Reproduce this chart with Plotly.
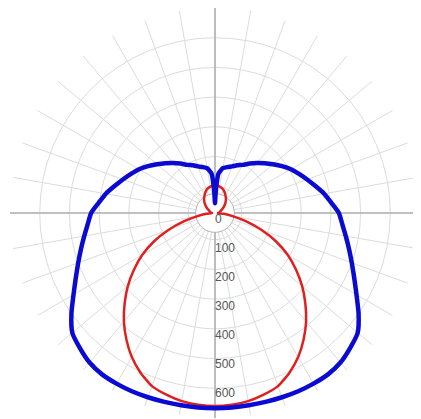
import plotly.graph_objects as go

# Angles measured from nadir (0 = straight down), one half of a symmetric curve
angles = [0, 5, 10, 15, 20, 25, 30, 35, 40, 45, 50, 55, 60, 65, 70, 75, 80, 85, 90,
          95, 100, 105, 110, 115, 120, 125, 130, 135, 140, 145, 150, 155, 160, 165, 170, 175, 178, 180]
blue_cd = [657, 657, 657, 658, 660, 662, 663, 663, 657, 643, 627, 590, 550, 517, 490, 467, 447, 430, 417,
           393, 373, 350, 330, 312, 295, 275, 255, 237, 220, 203, 187, 177, 167, 160, 153, 133, 73, 33]

red_angles = [0, 5, 10, 15, 20, 25, 30, 35, 40, 45, 50, 55, 60, 65, 70, 75, 80, 85, 90,
              95, 100, 110, 120, 130, 140, 150, 160, 170, 180]
red_cd = [650, 648, 643, 633, 620, 593, 560, 520, 477, 430, 383, 333, 283, 227, 167, 107, 60, 30, 10,
          13, 17, 20, 30, 43, 57, 70, 83, 90, 93]

label_vals = [0, 100, 200, 300, 400, 500, 600]
label_text = ["0", "100", "200", "300", "400", "500", "600"]
ring_vals = [90, 190, 290, 390, 490, 590, 690]
r_max = 690
hub_r = 65


def mirror(th, rr):
    t = [-a for a in reversed(th)] + th[1:]
    r = list(reversed(rr)) + rr[1:]
    return t, r


bt, br = mirror(angles, blue_cd)
rt, rr = mirror(red_angles, red_cd)

fig = go.Figure()

# main axes (darker lines)
fig.add_trace(go.Scatterpolar(r=[r_max, 0, r_max], theta=[90, 0, -90], mode="lines",
                              line=dict(color="#b0b0b0", width=1.6), hoverinfo="skip", showlegend=False))
fig.add_trace(go.Scatterpolar(r=[r_max, 0, r_max], theta=[0, 0, 180], mode="lines",
                              line=dict(color="#b0b0b0", width=1.6), hoverinfo="skip", showlegend=False))

# central hub circle
hub_t = list(range(0, 361, 5))
fig.add_trace(go.Scatterpolar(r=[hub_r] * len(hub_t), theta=hub_t, mode="lines", fill="toself",
                              fillcolor="white", line=dict(color="#b0b0b0", width=1),
                              hoverinfo="skip", showlegend=False))

fig.add_trace(go.Scatterpolar(r=rr, theta=rt, mode="lines",
                              line=dict(color="#e02020", width=2.5, shape="spline", smoothing=0.5),
                              showlegend=False))
fig.add_trace(go.Scatterpolar(r=br, theta=bt, mode="lines",
                              line=dict(color="#0a0ad2", width=4.5, shape="spline", smoothing=0.5),
                              showlegend=False))

# radial value labels along the nadir axis
fig.add_trace(go.Scatterpolar(r=[v * 0.975 + 25 for v in label_vals], theta=[0] * len(label_vals),
                              mode="text", text=label_text, textposition="middle right",
                              textfont=dict(family="Liberation Sans, Arial", size=12, color="#555555"),
                              hoverinfo="skip", showlegend=False))

W, H = 421, 419
cx, cy, R = 207, 203, 207
fig.update_layout(
    width=W, height=H,
    margin=dict(l=0, r=0, t=0, b=0),
    paper_bgcolor="white",
    plot_bgcolor="white",
    polar=dict(
        domain=dict(x=[max(0, (cx - R) / W), min(1, (cx + R) / W)],
                    y=[max(0, (H - cy - R) / H), min(1, (H - cy + R) / H)]),
        bgcolor="white",
        radialaxis=dict(range=[0, r_max], tickvals=ring_vals, showticklabels=False, ticks="",
                        gridcolor="#dcdcdc", gridwidth=1, showline=False),
        angularaxis=dict(rotation=-90, direction="counterclockwise", dtick=10, showticklabels=False,
                         ticks="", gridcolor="#dcdcdc", gridwidth=1, showline=False),
    ),
)

fig.write_html("out.html")
